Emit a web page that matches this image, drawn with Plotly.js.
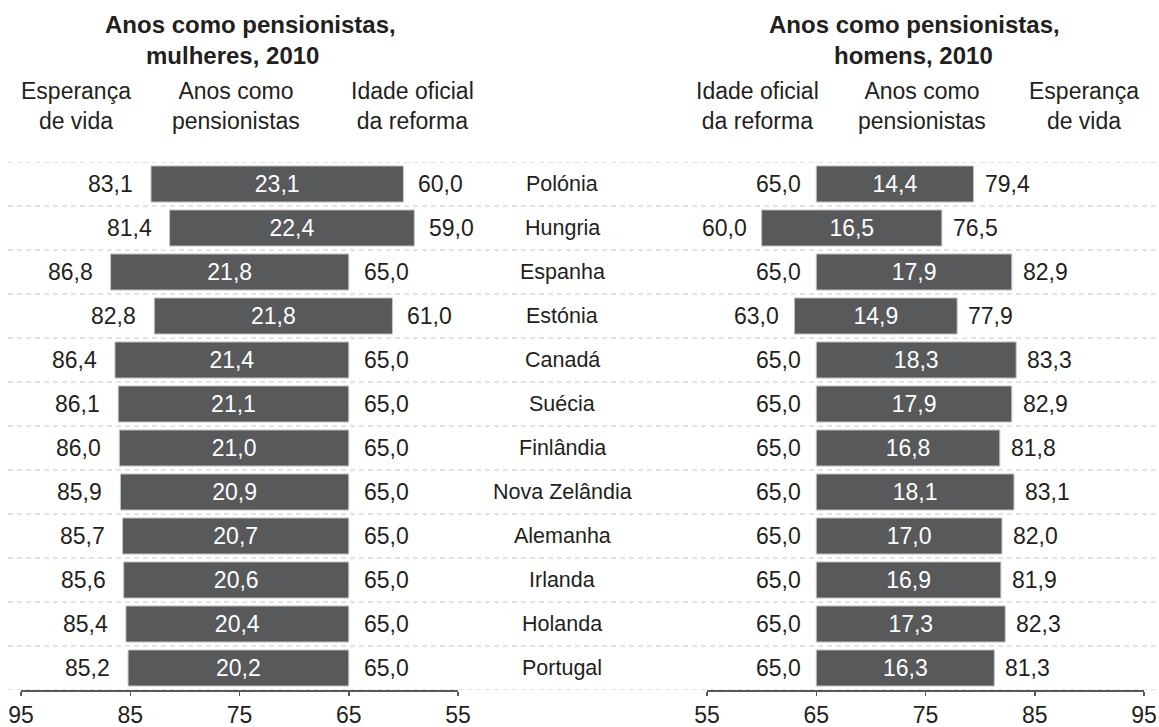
<!DOCTYPE html>
<html>
<head>
<meta charset="utf-8">
<script src="https://cdn.plot.ly/plotly-3.0.1.min.js"></script>
<style>html,body{margin:0;padding:0;background:#fff;}#chart{width:1159px;height:727px;}</style>
</head>
<body>
<div id="chart"></div>
<script>
// ---- data ----
var countries = ["Polónia","Hungria","Espanha","Estónia","Canadá","Suécia","Finlândia","Nova Zelândia","Alemanha","Irlanda","Holanda","Portugal"];
var womenLife  = [83.1, 81.4, 86.8, 82.8, 86.4, 86.1, 86.0, 85.9, 85.7, 85.6, 85.4, 85.2];
var womenYears = [23.1, 22.4, 21.8, 21.8, 21.4, 21.1, 21.0, 20.9, 20.7, 20.6, 20.4, 20.2];
var womenAge   = [60.0, 59.0, 65.0, 61.0, 65.0, 65.0, 65.0, 65.0, 65.0, 65.0, 65.0, 65.0];
var menAge     = [65.0, 60.0, 65.0, 63.0, 65.0, 65.0, 65.0, 65.0, 65.0, 65.0, 65.0, 65.0];
var menYears   = [14.4, 16.5, 17.9, 14.9, 18.3, 17.9, 16.8, 18.1, 17.0, 16.9, 17.3, 16.3];
var menLife    = [79.4, 76.5, 82.9, 77.9, 83.3, 82.9, 81.8, 83.1, 82.0, 81.9, 82.3, 81.3];
var leftTicks  = [95, 85, 75, 65, 55];
var rightTicks = [55, 65, 75, 85, 95];
var titleWomen = ["Anos como pensionistas,", "mulheres, 2010"];
var titleMen   = ["Anos como pensionistas,", "homens, 2010"];
var headersWomen = ["Esperança<br>de vida", "Anos como<br>pensionistas", "Idade oficial<br>da reforma"];
var headersMen   = ["Idade oficial<br>da reforma", "Anos como<br>pensionistas", "Esperança<br>de vida"];

// ---- helpers / styles ----
var W = 1159, H = 727;
function px(x){ return x / W; }
function py(y){ return 1 - y / H; }
function fmt(v){ return v.toFixed(1).replace('.', ','); }
var FONT = '"Liberation Sans", Arial, Helvetica, sans-serif';
var TXT = '#231f20';
var BAR = '#58595b';
var FS = 23;

var traces = [
  {
    type: 'bar', orientation: 'h', y: countries, x: womenYears, base: womenAge,
    xaxis: 'x', yaxis: 'y', width: 0.82,
    marker: {color: BAR, line: {color: '#c4c4c4', width: 1}},
    text: womenYears.map(fmt), textposition: 'inside', insidetextanchor: 'middle',
    textfont: {color: '#ffffff', size: FS, family: FONT},
    constraintext: 'none', hoverinfo: 'skip', showlegend: false
  },
  {
    type: 'bar', orientation: 'h', y: countries, x: menYears, base: menAge,
    xaxis: 'x2', yaxis: 'y2', width: 0.82,
    marker: {color: BAR, line: {color: '#c4c4c4', width: 1}},
    text: menYears.map(fmt), textposition: 'inside', insidetextanchor: 'middle',
    textfont: {color: '#ffffff', size: FS, family: FONT},
    constraintext: 'none', hoverinfo: 'skip', showlegend: false
  }
];

var annotations = [];
var shapes = [];
var lblFont = {size: FS, color: TXT, family: FONT};
var ctyFont = {size: 21.5, color: TXT, family: FONT, weight: 'normal'};

countries.forEach(function(c, i){
  annotations.push({xref: 'x', yref: 'y', x: womenLife[i], y: c, text: fmt(womenLife[i]),
    xanchor: 'right', yanchor: 'middle', xshift: -16, showarrow: false, font: lblFont});
  annotations.push({xref: 'x', yref: 'y', x: womenAge[i], y: c, text: fmt(womenAge[i]),
    xanchor: 'left', yanchor: 'middle', xshift: 13, showarrow: false, font: lblFont});
  annotations.push({xref: 'x2', yref: 'y2', x: menAge[i], y: c, text: fmt(menAge[i]),
    xanchor: 'right', yanchor: 'middle', xshift: -13, showarrow: false, font: lblFont});
  annotations.push({xref: 'x2', yref: 'y2', x: menLife[i], y: c, text: fmt(menLife[i]),
    xanchor: 'left', yanchor: 'middle', xshift: 9, showarrow: false, font: lblFont});
  annotations.push({xref: 'paper', yref: 'y', x: px(562), y: c, text: c,
    xanchor: 'center', yanchor: 'middle', showarrow: false, font: ctyFont});
});

for (var k = 0; k <= countries.length; k++) {
  shapes.push({type: 'line', xref: 'paper', yref: 'y', x0: px(8), x1: 1, y0: k - 0.5, y1: k - 0.5,
    line: {color: '#c8c8c8', width: 1, dash: '5px,4px'}, layer: 'below'});
}

// titles
var tFont = {size: FS, color: TXT, family: FONT};
var bFont = {size: 24, color: TXT, family: FONT};
annotations.push({xref:'paper', yref:'paper', x: px(250), y: py(24), text: '<b>' + titleWomen[0] + '</b>', showarrow:false, xanchor:'center', yanchor:'middle', font: bFont});
annotations.push({xref:'paper', yref:'paper', x: px(232), y: py(55), text: '<b>' + titleWomen[1] + '</b>', showarrow:false, xanchor:'center', yanchor:'middle', font: bFont});
annotations.push({xref:'paper', yref:'paper', x: px(914), y: py(24), text: '<b>' + titleMen[0] + '</b>', showarrow:false, xanchor:'center', yanchor:'middle', font: bFont});
annotations.push({xref:'paper', yref:'paper', x: px(913), y: py(55), text: '<b>' + titleMen[1] + '</b>', showarrow:false, xanchor:'center', yanchor:'middle', font: bFont});

// column headers
var hxW = [76, 236, 412], hxM = [757, 922, 1084];
headersWomen.forEach(function(h, i){
  annotations.push({xref:'paper', yref:'paper', x: px(hxW[i]), y: py(106), text: h, showarrow:false,
    xanchor:'center', yanchor:'middle', align:'center', font: tFont});
});
headersMen.forEach(function(h, i){
  annotations.push({xref:'paper', yref:'paper', x: px(hxM[i]), y: py(106), text: h, showarrow:false,
    xanchor:'center', yanchor:'middle', align:'center', font: tFont});
});

var xCommon = {
  showgrid: false, zeroline: false, showline: true, linecolor: '#58595b', linewidth: 1.5,
  ticks: 'outside', ticklen: 4, tickwidth: 1.5, tickcolor: '#58595b',
  tickfont: {size: FS, color: TXT, family: FONT}, fixedrange: true, ticklabelstandoff: 0
};
var yCommon = {
  type: 'category', categoryarray: countries, categoryorder: 'array',
  range: [countries.length - 0.5, -0.5], domain: [py(690), py(162)],
  showgrid: false, zeroline: false, showline: false, showticklabels: false, ticks: '', fixedrange: true
};

var layout = {
  width: W, height: H,
  margin: {l: 0, r: 0, t: 0, b: 0, pad: 0},
  paper_bgcolor: '#ffffff', plot_bgcolor: 'rgba(0,0,0,0)',
  font: {family: FONT, color: TXT, size: FS},
  showlegend: false,
  xaxis: Object.assign({}, xCommon, {domain: [px(21), px(458)], range: [95, 55], tickvals: leftTicks, anchor: 'y'}),
  xaxis2: Object.assign({}, xCommon, {domain: [px(707), px(1144)], range: [55, 95], tickvals: rightTicks, anchor: 'y2'}),
  yaxis: Object.assign({}, yCommon, {anchor: 'x'}),
  yaxis2: Object.assign({}, yCommon, {anchor: 'x2'}),
  annotations: annotations,
  shapes: shapes
};

Plotly.newPlot('chart', traces, layout, {staticPlot: true, displayModeBar: false});
</script>
</body>
</html>
